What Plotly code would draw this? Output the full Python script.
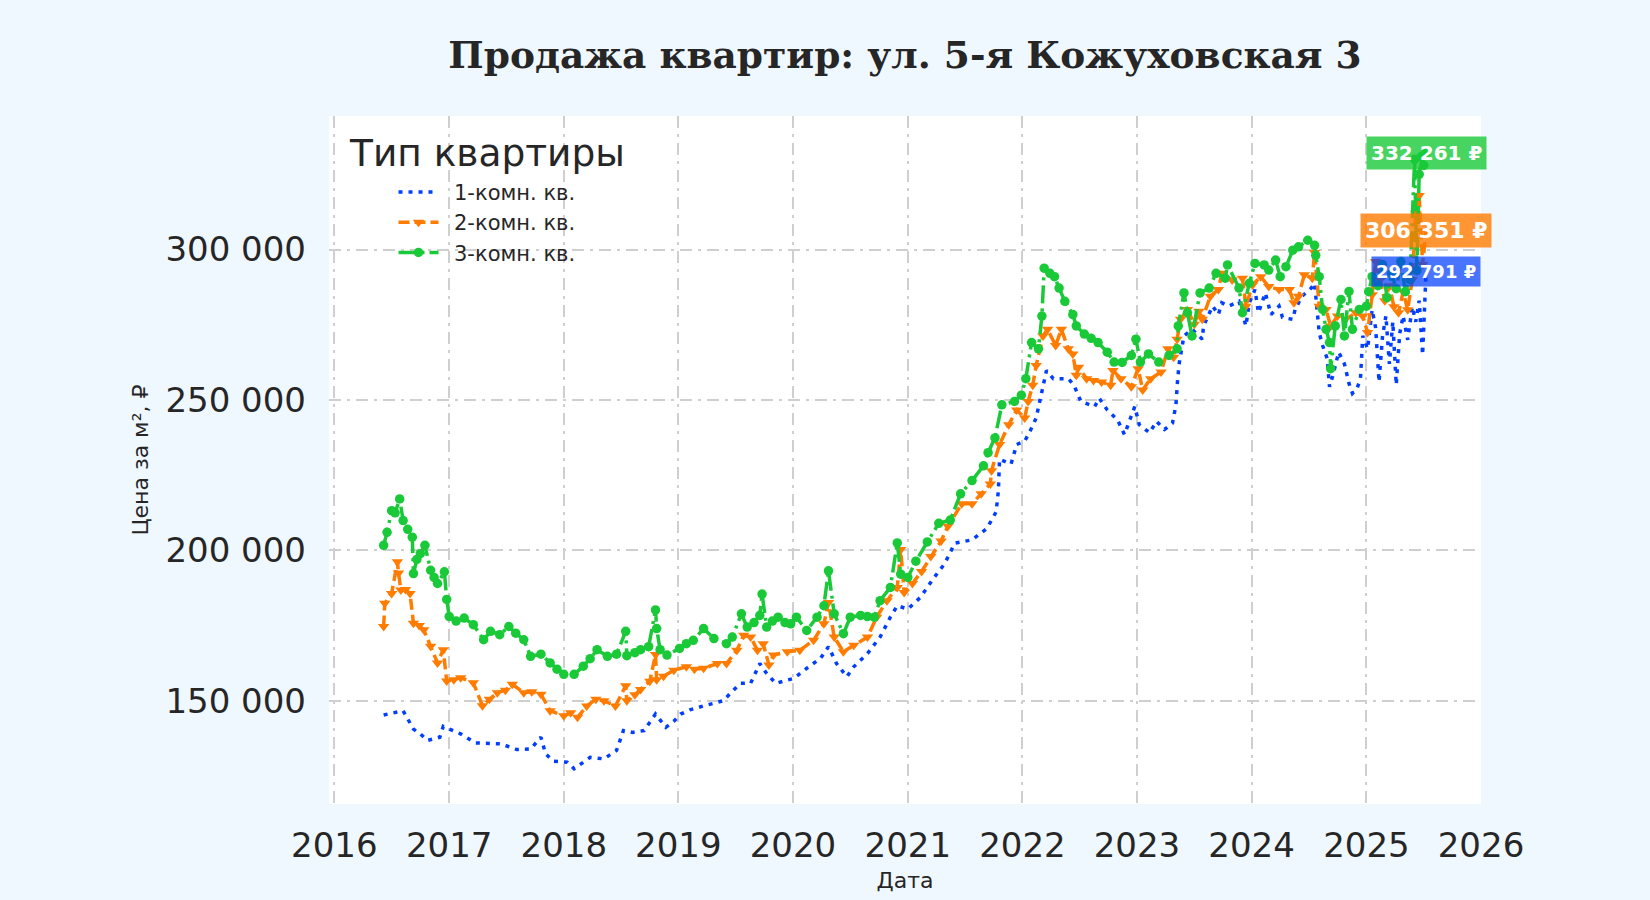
import pandas as pd
import plotly.graph_objects as go

# time points are decimal years, values are price per m2 (rub)
one_t = [2016.43, 2016.50, 2016.60, 2016.69, 2016.75, 2016.81, 2016.92, 2016.95, 2017.10, 2017.23,
         2017.35, 2017.45, 2017.59, 2017.71, 2017.80, 2017.84, 2017.91, 2018.03, 2018.09, 2018.23,
         2018.35, 2018.46, 2018.52, 2018.60, 2018.70, 2018.80, 2018.89, 2018.96, 2019.02, 2019.10,
         2019.22, 2019.39, 2019.54, 2019.63, 2019.71, 2019.77, 2019.85, 2020.01, 2020.12, 2020.24,
         2020.31, 2020.38, 2020.47, 2020.53, 2020.65, 2020.76, 2020.85, 2020.91, 2021.00, 2021.11,
         2021.23, 2021.32, 2021.41, 2021.49, 2021.56, 2021.69, 2021.77, 2021.79, 2021.80, 2021.90,
         2021.95, 2022.02, 2022.06, 2022.12, 2022.17, 2022.21, 2022.27, 2022.35, 2022.40, 2022.45,
         2022.51, 2022.63, 2022.67, 2022.74, 2022.83, 2022.89, 2022.98, 2023.02, 2023.11, 2023.17,
         2023.24, 2023.31, 2023.34, 2023.355, 2023.37, 2023.41, 2023.48, 2023.57, 2023.58, 2023.66,
         2023.71, 2023.74, 2023.80, 2023.89, 2023.95, 2023.98, 2024.03, 2024.06, 2024.12, 2024.17,
         2024.24, 2024.27, 2024.36, 2024.38, 2024.44, 2024.52, 2024.55, 2024.59, 2024.62, 2024.66,
         2024.68, 2024.71, 2024.76, 2024.81, 2024.85, 2024.88, 2024.92, 2024.95, 2024.97, 2025.01,
         2025.05, 2025.08, 2025.11, 2025.14, 2025.17, 2025.20, 2025.23, 2025.26, 2025.29, 2025.32,
         2025.36, 2025.40, 2025.43, 2025.46, 2025.49, 2025.52]
one_v = [145300, 146000, 146700, 140600, 139000, 136800, 137900, 141500, 139000, 136000,
         135800, 135700, 133800, 134000, 137900, 132400, 129900, 129600, 127400, 131200,
         130700, 133500, 140100, 139500, 140100, 145600, 141200, 143200, 145600, 147000,
         148300, 150000, 155800, 155800, 162400, 159100, 155800, 157500, 160800, 164100,
         168000, 162400, 158000, 161300, 165700, 171200, 177800, 181600, 180500, 184400,
         191000, 195500, 202400, 203000, 203500, 207300, 212800, 219900, 230300, 228700,
         235200, 236300, 239100, 244000, 252700, 259800, 257100, 257100, 257100, 254900,
         249500, 247800, 250600, 246700, 243400, 238500, 247800, 241800, 239100, 242900,
         240200, 242300, 248400, 257000, 262600, 271300, 273500, 270200, 274600, 281200,
         278400, 282300, 281200, 282800, 274600, 282300, 286700, 279000, 285600, 278400,
         281200, 277400, 276800, 280100, 284500, 287200, 288800, 272400, 268100, 263700,
         254400, 258200, 265900, 262000, 255500, 252200, 253800, 257100, 271300, 267000,
         280000, 274000, 256000, 271000, 278000, 262000, 276000, 255000, 272000, 278000,
         270000, 281000, 276000, 283000, 265000, 292791]

two_t = [2016.43, 2016.44, 2016.50, 2016.55, 2016.56, 2016.58, 2016.62, 2016.66, 2016.69, 2016.74,
         2016.78, 2016.84, 2016.90, 2016.95, 2016.98, 2017.04, 2017.10, 2017.21, 2017.29, 2017.35,
         2017.42, 2017.49, 2017.55, 2017.65, 2017.72, 2017.80, 2017.88, 2018.00, 2018.06, 2018.12,
         2018.20, 2018.28, 2018.35, 2018.45, 2018.54, 2018.55, 2018.62, 2018.67, 2018.75, 2018.80,
         2018.81, 2018.87, 2018.96, 2019.07, 2019.14, 2019.22, 2019.34, 2019.42, 2019.51, 2019.57,
         2019.63, 2019.69, 2019.74, 2019.79, 2019.83, 2019.95, 2020.06, 2020.18, 2020.27, 2020.31,
         2020.36, 2020.44, 2020.53, 2020.65, 2020.73, 2020.82, 2020.91, 2020.94, 2020.97, 2021.04,
         2021.12, 2021.20, 2021.29, 2021.35, 2021.47, 2021.56, 2021.64, 2021.72, 2021.73, 2021.80,
         2021.88, 2021.95, 2022.02, 2022.05, 2022.09, 2022.12, 2022.18, 2022.22, 2022.29, 2022.34,
         2022.40, 2022.44, 2022.47, 2022.49, 2022.56, 2022.62, 2022.69, 2022.77, 2022.79, 2022.86,
         2022.95, 2023.01, 2023.05, 2023.12, 2023.21, 2023.27, 2023.32, 2023.35, 2023.38, 2023.44,
         2023.50, 2023.54, 2023.57, 2023.64, 2023.71, 2023.74, 2023.83, 2023.92, 2023.95, 2024.01,
         2024.08, 2024.15, 2024.24, 2024.33, 2024.37, 2024.41, 2024.46, 2024.53, 2024.55, 2024.59,
         2024.65, 2024.69, 2024.75, 2024.82, 2024.91, 2024.97, 2025.01, 2025.05, 2025.08, 2025.12,
         2025.16, 2025.20, 2025.24, 2025.28, 2025.32, 2025.36, 2025.40, 2025.43, 2025.46, 2025.49,
         2025.52]
two_v = [174700, 182400, 185700, 196200, 192500, 186800, 187000, 185700, 175800, 175000,
         173600, 168100, 162600, 167000, 156600, 157000, 157700, 156000, 148400, 150500,
         152700, 153500, 155500, 152700, 153000, 152200, 146700, 145000, 146000, 144500,
         148300, 150500, 150000, 148300, 155000, 150000, 152000, 153800, 156500, 165400,
         157000, 158200, 160200, 161300, 160500, 160800, 162400, 162400, 166800, 171800,
         171200, 166800, 169000, 161900, 165200, 166300, 166800, 170100, 175600, 182700,
         171200, 166300, 168500, 171200, 177800, 183300, 187700, 200300, 186000, 189000,
         193000, 198000, 203100, 208000, 215500, 215500, 218800, 222100, 226500, 235200,
         241800, 246700, 244000, 249500, 254900, 261500, 271300, 273500, 268100, 273500,
         267000, 265300, 258200, 260900, 257100, 256500, 256000, 254900, 259800, 257100,
         254400, 260400, 253300, 257100, 259300, 267000, 264200, 270200, 276800, 280100,
         275200, 279500, 276800, 284500, 286700, 292100, 289900, 290500, 281200, 288300,
         291000, 287700, 286700, 286700, 282300, 284500, 291600, 290500, 299000, 281200,
         280100, 274600, 277900, 276800, 279000, 277900, 272400, 285000, 296000, 290000,
         283000, 288000, 281000, 279000, 286000, 280000, 290000, 312000, 318000, 295000,
         306351]

three_t = [2016.43, 2016.46, 2016.50, 2016.53, 2016.57, 2016.60, 2016.64, 2016.68, 2016.69, 2016.72,
           2016.75, 2016.79, 2016.84, 2016.87, 2016.90, 2016.96, 2016.98, 2017.00, 2017.06, 2017.13,
           2017.21, 2017.30, 2017.36, 2017.44, 2017.52, 2017.58, 2017.65, 2017.71, 2017.80, 2017.88,
           2017.94, 2018.00, 2018.09, 2018.17, 2018.23, 2018.29, 2018.38, 2018.46, 2018.54, 2018.55,
           2018.62, 2018.67, 2018.74, 2018.80, 2018.81, 2018.84, 2018.90, 2019.01, 2019.07, 2019.13,
           2019.22, 2019.31, 2019.42, 2019.47, 2019.55, 2019.60, 2019.66, 2019.71, 2019.73, 2019.77,
           2019.82, 2019.87, 2019.93, 2019.98, 2020.03, 2020.12, 2020.21, 2020.27, 2020.31, 2020.36,
           2020.44, 2020.50, 2020.59, 2020.65, 2020.71, 2020.76, 2020.85, 2020.91, 2020.94, 2021.00,
           2021.07, 2021.17, 2021.27, 2021.37, 2021.46, 2021.56, 2021.66, 2021.70, 2021.76, 2021.82,
           2021.93, 2021.99, 2022.03, 2022.08, 2022.14, 2022.17, 2022.19, 2022.24, 2022.28, 2022.32,
           2022.37, 2022.44, 2022.47, 2022.54, 2022.60, 2022.66, 2022.74, 2022.80, 2022.87, 2022.95,
           2022.99, 2023.03, 2023.10, 2023.19, 2023.28, 2023.35, 2023.36, 2023.41, 2023.44, 2023.48,
           2023.55, 2023.63, 2023.69, 2023.77, 2023.79, 2023.89, 2023.92, 2023.98, 2024.03, 2024.11,
           2024.15, 2024.21, 2024.25, 2024.30, 2024.36, 2024.41, 2024.49, 2024.55, 2024.56, 2024.59,
           2024.62, 2024.65, 2024.68, 2024.69, 2024.73, 2024.78, 2024.81, 2024.85, 2024.88, 2024.94,
           2025.00, 2025.02, 2025.05, 2025.10, 2025.14, 2025.18, 2025.22, 2025.26, 2025.30, 2025.34,
           2025.38, 2025.42, 2025.44, 2025.46, 2025.48, 2025.50, 2025.52]
three_v = [201700, 206000, 213200, 212500, 217100, 209900, 207000, 204400, 192300, 197000,
           198900, 201700, 193400, 191000, 189000, 192900, 183700, 178000, 176500, 177500,
           175300, 170300, 173100, 172000, 174700, 172500, 170300, 164800, 165500, 162600,
           160500, 158800, 158800, 161500, 164000, 167000, 164800, 165500, 173100, 165000,
           166000, 167000, 168000, 180200, 174000, 167000, 165200, 167400, 169000, 170100,
           174000, 170700, 169000, 171200, 178900, 174500, 176000, 178400, 185500, 174500,
           176500, 177800, 176000, 175600, 177800, 173400, 177800, 181600, 193200, 178900,
           172300, 177800, 178400, 178000, 177800, 183300, 187700, 202500, 192100, 191000,
           196400, 202800, 209000, 210100, 218800, 223200, 228100, 232500, 237400, 248400,
           249500, 251600, 257100, 269100, 267000, 277900, 293800, 292100, 291000, 287200,
           282800, 278400, 274600, 271900, 270500, 269100, 265900, 262600, 262500, 264800,
           270200, 262600, 265300, 262600, 264800, 267000, 274600, 285600, 279000, 271300,
           285600, 287200, 292100, 290500, 294900, 287200, 279000, 288800, 295400, 294900,
           293200, 296500, 291000, 294300, 299800, 300900, 303100, 301400, 298100, 291000,
           280100, 273500, 269100, 260400, 274600, 283400, 271300, 286100, 273500, 280100,
           281200, 286000, 291000, 288000, 295000, 284000, 292000, 287000, 296000, 286000,
           290000, 330000, 293000, 325000, 331000, 328000, 332261]

names = ["1-комн. кв.", "2-комн. кв.", "3-комн. кв."]
colors = ["#023eff", "#ff7c00", "#1ac938"]
label_bg = ["rgba(2,62,255,0.72)", "rgba(255,124,0,0.8)", "rgba(26,201,56,0.8)"]
label_size = [18, 22, 20]


def to_dates(years):
    out = []
    for t in years:
        y = int(t)
        out.append(pd.Timestamp(y, 1, 1) + pd.Timedelta(days=(t - y) * 365.25))
    return out


FONT = "DejaVu Sans"
fig = go.Figure()

# en space in front of the names gives the wider gap after the legend symbol
fig.add_trace(go.Scatter(x=to_dates(one_t), y=one_v, name="\u2002" + names[0], mode="lines",
                         line=dict(color=colors[0], width=3.5, dash="4px,6px")))
fig.add_trace(go.Scatter(x=to_dates(two_t), y=two_v, name="\u2002" + names[1], mode="lines+markers",
                         line=dict(color=colors[1], width=3.5, dash="11px,5px"),
                         marker=dict(symbol="triangle-down", size=10, color=colors[1])))
fig.add_trace(go.Scatter(x=to_dates(three_t), y=three_v, name="\u2002" + names[2], mode="lines+markers",
                         line=dict(color=colors[2], width=3.5, dash="18px,5px,3px,5px"),
                         marker=dict(symbol="circle", size=9.5, color=colors[2])))

# labels with the last price of each series
series = [(one_t, one_v), (two_t, two_v), (three_t, three_v)]
for i, (t, v) in enumerate(series):
    txt = f"{v[-1]:,}".replace(",", " ") + " ₽"
    fig.add_annotation(x=to_dates([t[-1]])[0], y=v[-1], text=f"<b>{txt}</b>", showarrow=False,
                       xanchor="center", yanchor="middle", bgcolor=label_bg[i],
                       borderpad=4, font=dict(family=FONT, size=label_size[i], color="white"))

# legend title drawn separately, items are indented under it
fig.add_annotation(xref="paper", yref="paper", x=0.016, y=0.9465, xanchor="left", yanchor="middle",
                   text="Тип квартиры", showarrow=False, font=dict(family=FONT, size=37.5, color="#262626"))

fig.update_layout(
    width=1650, height=900,
    title=dict(text="<b>Продажа квартир: ул. 5-я Кожуховская 3</b>", x=0.5, xref="paper",
               y=0.939, yanchor="middle", font=dict(family="DejaVu Serif", size=37.5, color="#262626")),
    paper_bgcolor="#f0f8ff", plot_bgcolor="white",
    margin=dict(l=329, r=169, t=116, b=92),
    separators=". ",
    font=dict(family=FONT, color="#262626"),
    legend=dict(x=0.056, y=0.919, xanchor="left", yanchor="top", bgcolor="rgba(0,0,0,0)",
                itemwidth=40, font=dict(family=FONT, size=21, color="#262626")),
    showlegend=True,
)
fig.update_xaxes(type="date", range=["2015-12-15", "2026-01-01"], dtick="M12", tick0="2016-01-01",
                 tickformat="%Y", tickfont=dict(size=34), ticklabelstandoff=18,
                 showgrid=True, gridcolor="#cfcfcf", gridwidth=2, griddash="12px,6px,3px,6px",
                 zeroline=False, showline=False,
                 title=dict(text="Дата", font=dict(size=22), standoff=8))
fig.update_yaxes(range=[115700, 344400], tickvals=[150000, 200000, 250000, 300000], tickformat=",d",
                 tickfont=dict(size=34), ticklabelstandoff=22,
                 showgrid=True, gridcolor="#cfcfcf", gridwidth=2, griddash="12px,6px,3px,6px",
                 zeroline=False, showline=False,
                 title=dict(text="Цена за м², ₽", font=dict(size=22), standoff=10))

fig.write_html("out.html", config={"displayModeBar": False},
               post_script="document.body.style.margin='0';")
